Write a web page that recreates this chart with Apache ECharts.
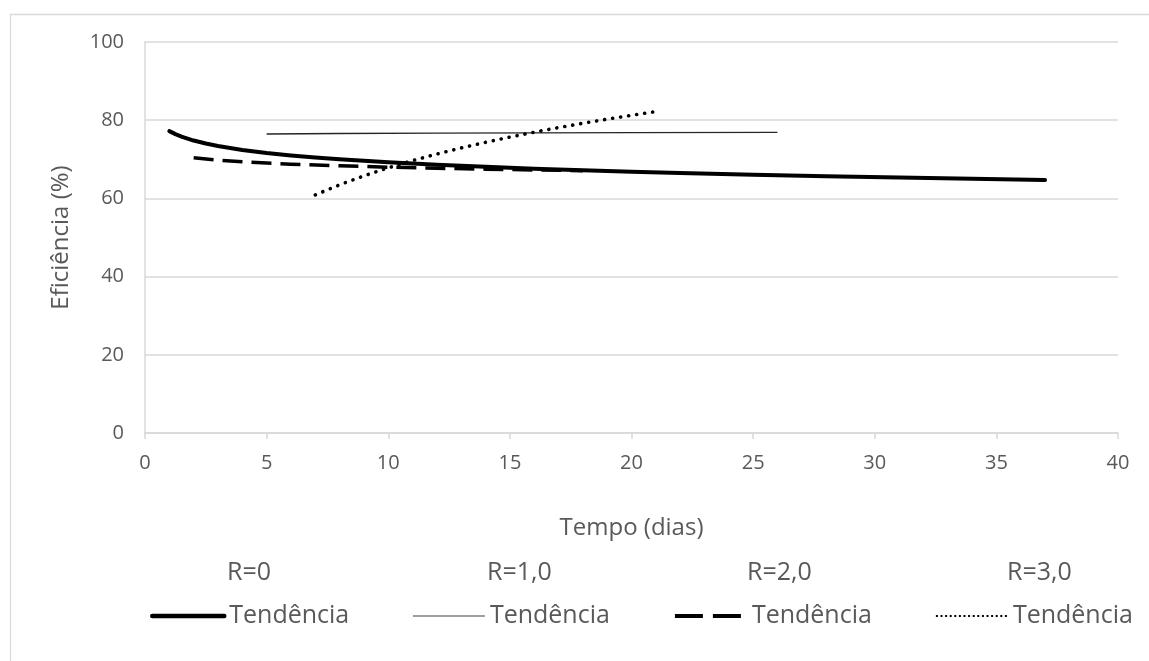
<!DOCTYPE html>
<html>
<head>
<meta charset="utf-8">
<script src="https://cdn.jsdelivr.net/npm/echarts@6/dist/echarts.min.js"></script>
<style>
html,body{margin:0;padding:0;background:#fff;}
#c{width:1149px;height:661px;}
</style>
</head>
<body>
<div id="c"></div>
<script>
// ---- data ----
var groupNames = ['R=0', 'R=1,0', 'R=2,0', 'R=3,0'];
var trendLabel = 'Tendência';
var xTicks = [0, 5, 10, 15, 20, 25, 30, 35, 40];
var yTicks = [0, 20, 40, 60, 80, 100];

var r0Days = [1, 1.25, 1.5, 2, 2.5, 3, 3.5, 4, 5, 6, 7, 8, 9, 10, 12, 14, 16, 18, 20, 22, 25, 28, 31, 34, 37];
var r0Eff  = [77.2, 76.43, 75.8, 74.8, 74.03, 73.4, 72.87, 72.4, 71.63, 71.0, 70.47, 70.01, 69.6, 69.23, 68.6, 68.07, 67.61, 67.2, 66.83, 66.5, 66.06, 65.67, 65.32, 65.0, 64.7];

var r1Days = [5, 8, 12, 16, 20, 26];
var r1Eff  = [76.47, 76.6, 76.7, 76.77, 76.83, 76.9];

var r2Days = [2, 3, 4, 5, 6, 8, 10, 12, 14, 16, 18];
var r2Eff  = [70.4, 69.79, 69.36, 69.03, 68.75, 68.32, 67.99, 67.71, 67.48, 67.28, 67.1];

var r3Days = [7, 8, 9, 10, 11, 12, 13, 14, 15, 16, 17, 18, 19, 20, 21];
var r3Eff  = [60.9, 63.49, 65.77, 67.82, 69.67, 71.35, 72.9, 74.34, 75.68, 76.93, 78.11, 79.22, 80.27, 81.26, 82.2];

// ---- build ----
function pairs(xs, ys) { return xs.map(function (x, i) { return [x, ys[i]]; }); }
var FONT = '"Open Sans", "Noto Sans", sans-serif';
var TXT = '#595959';
var GRID = '#d9d9d9';

var trendStyles = [
  { width: 4, type: 'solid', color: '#000', cap: 'round', legend: { width: 4.5, type: 'solid', color: '#000', cap: 'round' } },
  { width: 1.3, type: 'solid', color: '#262626', cap: 'butt', legend: { width: 1.3, type: 'solid', color: '#7f7f7f', cap: 'butt' } },
  { width: 3.5, type: [20, 9], color: '#000', cap: 'butt', legend: { width: 4, type: [28, 10], color: '#000', cap: 'butt' } },
  { width: 3.6, type: [0.1, 8], color: '#000', cap: 'round', legend: { width: 2, type: [2, 2.6], color: '#000', cap: 'butt' } }
];
var trendData = [pairs(r0Days, r0Eff), pairs(r1Days, r1Eff), pairs(r2Days, r2Eff), pairs(r3Days, r3Eff)];

var series = [];
groupNames.forEach(function (g) {
  series.push({ name: g, type: 'scatter', data: [], itemStyle: { color: 'rgba(0,0,0,0)' } });
});
groupNames.forEach(function (g, i) {
  var s = trendStyles[i];
  series.push({
    name: trendLabel + ' ' + g,
    type: 'line',
    data: trendData[i],
    symbol: 'none',
    smooth: false,
    silent: true,
    color: s.color,
    lineStyle: { width: s.width, type: s.type, color: s.color, cap: s.cap, join: 'round' }
  });
});

var legendCommon = {
  orient: 'horizontal',
  left: 150,
  padding: 0,
  itemWidth: 72,
  itemHeight: 14,
  itemGap: 53,
  selectedMode: false,
  itemStyle: { opacity: 0 },
  textStyle: { color: TXT, fontFamily: FONT, fontSize: 25, width: 130, lineHeight: 30 }
};

var chart = echarts.init(document.getElementById('c'), null, { renderer: 'canvas' });
chart.setOption({
  backgroundColor: '#fff',
  animation: false,
  graphic: [{
    type: 'rect', left: 8, top: 12, silent: true,
    shape: { width: 1300, height: 800 },
    style: { fill: 'none', stroke: GRID, lineWidth: 1.3 }
  }],
  grid: { left: 145, right: 31, top: 42, bottom: 228, containLabel: false },
  legend: [
    Object.assign({}, legendCommon, {
      top: 558,
      data: groupNames.map(function (g) { return { name: g, icon: 'rect', itemStyle: { color: 'rgba(0,0,0,0)', opacity: 0 } }; })
    }),
    Object.assign({}, legendCommon, {
      top: 601,
      data: groupNames.map(function (g, i) {
        var l = trendStyles[i].legend;
        return { name: trendLabel + ' ' + g, itemStyle: { opacity: 0 }, lineStyle: { width: l.width, type: l.type, color: l.color, cap: l.cap } };
      }),
      formatter: function () { return trendLabel; }
    })
  ],
  xAxis: {
    type: 'value', min: xTicks[0], max: xTicks[xTicks.length - 1], interval: 5,
    name: 'Tempo (dias)', nameLocation: 'middle', nameGap: 83,
    nameTextStyle: { color: TXT, fontFamily: FONT, fontSize: 24, lineHeight: 24 },
    axisLine: { show: true, onZero: false, lineStyle: { color: GRID, width: 1.5 } },
    axisTick: { show: true, length: 6, inside: false, lineStyle: { color: GRID, width: 1.5 } },
    axisLabel: { color: TXT, fontFamily: FONT, fontSize: 20, lineHeight: 20, margin: 20 },
    splitLine: { show: false }
  },
  yAxis: {
    type: 'value', min: yTicks[0], max: yTicks[yTicks.length - 1], interval: 20,
    name: 'Eficiência (%)', nameLocation: 'middle', nameGap: 72, nameRotate: 90,
    nameTextStyle: { color: TXT, fontFamily: FONT, fontSize: 24, lineHeight: 24 },
    axisLine: { show: true, lineStyle: { color: GRID, width: 1.5 } },
    axisTick: { show: false },
    axisLabel: { color: TXT, fontFamily: FONT, fontSize: 20, margin: 21 },
    splitLine: { show: true, lineStyle: { color: GRID, width: 1.5 } }
  },
  series: series
});
</script>
</body>
</html>
